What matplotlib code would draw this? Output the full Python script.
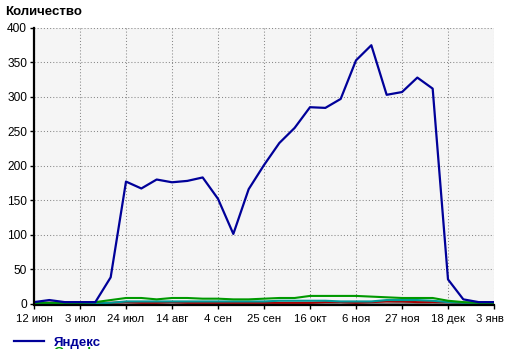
# Количество по неделям: Яндекс и прочие источники
import numpy as np
import matplotlib
matplotlib.use('Agg')
import matplotlib.pyplot as plt
import matplotlib.transforms as mtransforms
from matplotlib.lines import Line2D

plt.rcParams['font.family'] = ['Liberation Sans', 'DejaVu Sans']
plt.rcParams['lines.scale_dashes'] = False

# подписи оси X (каждые 3 недели)
tick_labels = ['12 июн', '3 июл', '24 июл', '14 авг', '4 сен', '25 сен',
               '16 окт', '6 ноя', '27 ноя', '18 дек', '3 янв']
weeks = np.arange(31)

yandex = [2, 5, 2, 2, 2, 38, 177, 167, 180, 176, 178, 183, 152, 101, 166, 201,
          233, 255, 285, 284, 297, 353, 375, 303, 307, 328, 312, 35, 6, 2, 2]
google = [1, 1, 1, 1, 2, 5, 8, 8, 6, 8, 8, 7, 7, 6, 6, 7,
          8, 8, 11, 11, 11, 11, 10, 9, 8, 8, 8, 4, 2, 1, 1]
teal = [0, 0, 0, 0, 0, 1, 3, 3, 3, 3, 3, 3, 3, 3, 3, 3,
        4, 4, 4, 4, 3, 3, 3, 5, 5, 5, 4, 2, 1, 1, 1]
red = [1, 1, 1, 1, 1, 1, 2, 1, 1, 2, 1, 1, 1, 1, 1, 1,
       1, 1, 1, 2, 2, 1, 2, 3, 3, 2, 2, 2, 1, 1, 1]
grey = [0, 0, 0, 0, 0, 0, 1, 0, 0, 1, 0, 0, 0, 0, 0, 0,
        0, 0, 0, 0, 1, 0, 0, 0, 1, 0, 1, 0, 0, 0, 0]

fig = plt.figure(figsize=(5.06, 3.49), dpi=100)
ax = fig.add_axes([34/506, 45.5/349, 460/506, 275.5/349])
ax.set_facecolor('#f5f5f5')

ax.plot(weeks, grey, color='#888888', lw=1.5)
ax.plot(weeks, red, color='#aa0000', lw=1.5)
ax.plot(weeks, teal, color='#009999', lw=1.5)
ax.plot(weeks, google, color='#009900', lw=1.5)
ax.plot(weeks, yandex, color='#000099', lw=1.6)

ax.set_xlim(0, 30)
ax.set_ylim(0, 400)
ax.set_xticks(np.arange(0, 31, 3))
ax.set_xticklabels(tick_labels)
ax.set_yticks(np.arange(0, 401, 50))

ax.grid(True, color='#888888', linestyle=(0, (0.75, 1.5)), linewidth=0.75)
ax.set_axisbelow(True)

for s in ['top', 'right']:
    ax.spines[s].set_visible(False)
ax.spines['left'].set_linewidth(1.6)
ax.spines['bottom'].set_linewidth(1.6)
ax.spines['bottom'].set_position(('outward', 1.2))
ax.tick_params(axis='both', direction='out', length=3, width=1, labelsize=8.6,
               colors='black', pad=2)
ax.tick_params(axis='x', labelsize=8.2, pad=3.5)

# последняя подпись чуть левее, чтобы влезла
last = ax.get_xticklabels()[-1]
last.set_transform(last.get_transform() +
                   mtransforms.ScaledTranslation(-4/100, 0, fig.dpi_scale_trans))

fig.text(5/506, 1 - 12/349, 'Количество', fontsize=9.5, fontweight='bold',
         va='center', ha='left')

handles = [Line2D([], [], color='#000099', lw=1.6),
           Line2D([], [], color='#009900', lw=1.6)]
leg = fig.legend(handles, ['Яндекс', 'Google'], loc='upper left',
                 bbox_to_anchor=(14/506, 1 - 336.5/349), frameon=False,
                 handlelength=2.3, handletextpad=0.7, labelspacing=-0.12,
                 borderpad=0, borderaxespad=0, fontsize=9.5)
for txt, c in zip(leg.get_texts(), ['#000099', '#009900']):
    txt.set_color(c)
    txt.set_fontweight('bold')

fig.savefig('out.png', dpi=100)
